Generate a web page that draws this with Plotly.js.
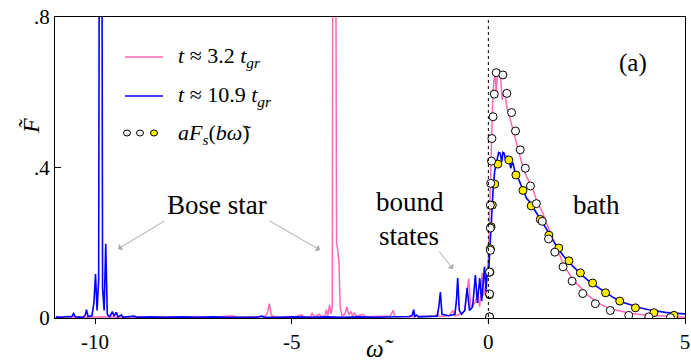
<!DOCTYPE html>
<html>
<head>
<meta charset="utf-8">
<script src="https://cdn.plot.ly/plotly-3.0.1.min.js"></script>
</head>
<body style="margin:0;background:#fff">
<div id="chart" style="width:691px;height:364px"></div>
<script>
// ---- data ----
const pinkX = [-11.0,-10.6,-10.2,-9.8,-9.4,-9.0,-8.6,-8.2,-7.8,-7.4,-7.2,-6.8,-6.5,-6.4,-6.0,-5.7,-5.62,-5.57,-5.52,-5.45,-5.2,-5.05,-4.9,-4.76,-4.7,-4.52,-4.48,-4.43,-4.3,-4.25,-4.15,-4.12,-4.08,-4.04,-4.0,-3.97,-3.93,-3.88,-3.86,-3.83,-3.80,-3.77,-3.72,-3.65,-3.60,-3.55,-3.50,-3.45,-3.40,-3.35,-3.2,-3.1,-2.9,-2.7,-2.5,-2.42,-2.38,-2.2,-1.9,-1.6,-1.35,-1.3,-1.25,-1.0,-0.9,-0.85,-0.72,-0.6,-0.55,-0.50,-0.45,-0.35,-0.28,-0.22,-0.16,-0.12,-0.08,-0.04,0.00,0.03,0.05,0.08,0.11,0.14,0.17,0.20,0.23,0.27,0.31,0.35,0.39,0.43,0.48,0.55,0.63,0.70,0.80,0.88,0.97,1.05,1.14,1.22,1.31,1.40,1.48,1.57,1.65,1.74,1.82,1.90,1.99,2.08,2.16,2.26,2.36,2.47,2.58,2.78,3.00,3.2,3.43,3.65,3.86,4.2,4.5,4.75,5.0];
const pinkY = [0.002,0.003,0.002,0.003,0.002,0.003,0.002,0.003,0.002,0.004,0.002,0.003,0.006,0.002,0.003,0.003,0.012,0.038,0.008,0.003,0.002,0.004,0.003,0.009,0.003,0.004,0.014,0.003,0.01,0.004,0.006,0.022,0.006,0.035,0.01,0.03,3.0,0.6,0.2,0.18,0.15,0.03,0.005,0.01,0.03,0.008,0.018,0.005,0.014,0.004,0.01,0.003,0.004,0.003,0.005,0.02,0.004,0.003,0.004,0.003,0.005,0.012,0.004,0.006,0.02,0.006,0.01,0.02,0.07,0.105,0.03,0.04,0.06,0.03,0.12,0.06,0.08,0.10,0.16,0.28,0.36,0.49,0.58,0.63,0.648,0.60,0.645,0.66,0.645,0.58,0.60,0.59,0.555,0.53,0.50,0.47,0.43,0.40,0.376,0.36,0.34,0.315,0.296,0.275,0.252,0.228,0.207,0.185,0.163,0.145,0.128,0.113,0.101,0.09,0.08,0.068,0.056,0.04,0.029,0.022,0.016,0.012,0.009,0.006,0.004,0.003,0.002];

const blueX = [-11.0,-10.85,-10.7,-10.6,-10.55,-10.5,-10.3,-10.25,-10.22,-10.18,-10.08,-10.03,-9.99,-9.95,-9.91,-9.86,-9.81,-9.77,-9.73,-9.69,-9.63,-9.56,-9.52,-9.46,-9.42,-9.33,-9.29,-9.1,-9.0,-8.95,-8.6,-8.2,-7.8,-7.4,-7.0,-6.6,-6.2,-5.9,-5.75,-5.7,-5.3,-4.9,-4.5,-4.1,-3.7,-3.3,-2.9,-2.5,-2.2,-2.0,-1.93,-1.90,-1.87,-1.82,-1.78,-1.5,-1.3,-1.26,-1.22,-1.18,-1.0,-0.85,-0.81,-0.78,-0.74,-0.68,-0.60,-0.54,-0.48,-0.40,-0.33,-0.28,-0.22,-0.17,-0.10,-0.06,-0.03,0.00,0.03,0.06,0.08,0.12,0.16,0.21,0.26,0.30,0.34,0.37,0.40,0.45,0.48,0.51,0.57,0.60,0.63,0.68,0.72,0.76,0.85,0.97,1.04,1.10,1.23,1.31,1.40,1.48,1.57,1.65,1.74,1.86,1.99,2.12,2.25,2.40,2.58,2.8,3.01,3.2,3.43,3.65,3.86,4.07,4.28,4.5,4.70,4.85,5.0];
const blueY = [0.003,0.002,0.004,0.003,0.012,0.003,0.002,0.008,0.022,0.004,0.006,0.04,0.117,0.02,0.1,3.0,0.08,0.02,0.197,0.01,0.003,0.017,0.005,0.015,0.003,0.008,0.002,0.003,0.005,0.002,0.003,0.002,0.003,0.002,0.003,0.002,0.003,0.002,0.005,0.002,0.002,0.003,0.002,0.003,0.002,0.003,0.002,0.003,0.002,0.004,0.008,0.022,0.004,0.008,0.003,0.004,0.005,0.03,0.069,0.01,0.006,0.01,0.05,0.106,0.02,0.01,0.02,0.08,0.02,0.03,0.114,0.04,0.106,0.045,0.136,0.07,0.128,0.11,0.17,0.22,0.243,0.34,0.39,0.411,0.44,0.438,0.415,0.44,0.438,0.415,0.43,0.429,0.398,0.41,0.411,0.385,0.38,0.371,0.349,0.318,0.31,0.30,0.278,0.265,0.252,0.238,0.221,0.205,0.19,0.172,0.154,0.14,0.128,0.112,0.096,0.08,0.065,0.053,0.041,0.033,0.027,0.022,0.018,0.015,0.013,0.012,0.011];

const fitWhiteX = [0.03,0.03,0.03,0.05,0.05,0.05,0.06,0.08,0.09,0.12,0.15,0.20,0.37,0.47,0.59,0.69,0.81,0.94,1.07,1.22,1.37,1.53,1.69,1.90,2.13,2.40,2.72,3.10,3.57,4.08,4.63];
const fitWhiteY = [0.003,0.064,0.122,0.18,0.239,0.30,0.358,0.417,0.477,0.535,0.595,0.652,0.646,0.597,0.546,0.497,0.447,0.398,0.351,0.304,0.257,0.21,0.175,0.136,0.098,0.065,0.038,0.020,0.007,0.003,0.001];

const fitYellowX = [0.03,0.03,0.04,0.05,0.07,0.10,0.16,0.24,0.52,0.70,0.88,1.09,1.32,1.54,1.79,2.05,2.34,2.65,2.98,3.34,3.74,4.21,4.72];
const fitYellowY = [0.003,0.062,0.122,0.184,0.242,0.30,0.356,0.409,0.42,0.38,0.339,0.298,0.262,0.22,0.186,0.152,0.12,0.093,0.067,0.045,0.027,0.014,0.007];

const xTickVals = [-10,-5,0,5];
const xTickText = ['-10','-5','0','5'];
const yTickVals = [0,0.4,0.8];
const yTickText = ['0','.4','.8'];

const legendLabels = ['<i>t</i> ≈ 3.2 <i>t<sub>gr</sub></i>', '<i>t</i> ≈ 10.9 <i>t<sub>gr</sub></i>', '<i>aF<sub>s</sub></i>(<i>bω̃</i>)'];

function drawChart() {
  // ---- layout helpers (pixel -> paper) ----
  const pL = 55, pR = 685, pT = 17, pB = 318;
  const toPX = x => (x - pL) / (pR - pL);
  const toPY = y => (pB - y) / (pB - pT);
  const FAM = 'Liberation Serif';
  const PINK = '#ff69b4', BLUE = '#0000ff';

  const traces = [
    {x: pinkX, y: pinkY, mode: 'lines', line: {color: PINK, width: 1.5}, hoverinfo: 'skip'},
    {x: blueX, y: blueY, mode: 'lines', line: {color: BLUE, width: 1.6}, hoverinfo: 'skip'},
    {x: fitYellowX, y: fitYellowY, mode: 'markers', marker: {symbol: 'circle', size: 8, color: '#ffee00', line: {color: '#000', width: 1}}, hoverinfo: 'skip'},
    {x: fitWhiteX, y: fitWhiteY, mode: 'markers', marker: {symbol: 'circle', size: 8, color: '#ffffff', line: {color: '#000', width: 1}}, hoverinfo: 'skip'}
  ];

  const shapes = [
    {type: 'line', xref: 'x', yref: 'paper', x0: 0, x1: 0, y0: toPY(323), y1: 1, line: {color: '#000', width: 1, dash: 'dot'}},
    {type: 'line', xref: 'paper', yref: 'paper', x0: toPX(125), x1: toPX(163), y0: toPY(57), y1: toPY(57), line: {color: PINK, width: 1.5}},
    {type: 'line', xref: 'paper', yref: 'paper', x0: toPX(125), x1: toPX(163), y0: toPY(96), y1: toPY(96), line: {color: BLUE, width: 1.6}}
  ];
  [[127,'#ffffff'],[140,'#ffffff'],[154,'#ffee00']].forEach(function (p) {
    shapes.push({type: 'circle', xref: 'paper', yref: 'paper', x0: toPX(p[0]-3.5), x1: toPX(p[0]+3.5), y0: toPY(136), y1: toPY(130), fillcolor: p[1], line: {color: '#000', width: 1}});
  });

  function ann(x, y, text, size, extra) {
    return Object.assign({xref: 'paper', yref: 'paper', x: toPX(x), y: toPY(y), text: text, showarrow: false,
      font: {family: FAM, size: size, color: '#000'}, xanchor: 'center', yanchor: 'middle'}, extra || {});
  }
  function arrow(hx, hy, tx, ty) {
    return {xref: 'paper', yref: 'paper', x: toPX(hx), y: toPY(hy), ax: tx - hx, ay: ty - hy, text: '', showarrow: true,
      arrowhead: 1, arrowsize: 1.3, arrowwidth: 1, arrowcolor: '#aaaaaa'};
  }

  const annotations = [
    ann(176, 57, legendLabels[0], 22, {xanchor: 'left'}),
    ann(176, 96, legendLabels[1], 22, {xanchor: 'left'}),
    ann(176, 134, legendLabels[2], 22, {xanchor: 'left'}),
    ann(633, 63, '(a)', 25),
    ann(217, 205, 'Bose star', 27),
    ann(410, 219, 'bound', 27, {yanchor: 'bottom'}),
    ann(409, 219, 'states', 27, {yanchor: 'top'}),
    ann(596, 205, 'bath', 27),
    ann(380, 348, '<i>ω̃</i>', 25),
    ann(31, 126, '<i>F̃</i>', 24, {textangle: -90}),
    arrow(118, 249, 166, 220),
    arrow(320, 250, 268, 220),
    arrow(453, 269, 438, 250)
  ];

  const axisBase = {ticklen: 5, tickwidth: 1, tickcolor: '#000', showline: true, mirror: true, linecolor: '#000', linewidth: 1.3,
    showgrid: false, zeroline: false, tickfont: {family: FAM, size: 21, color: '#000'}};

  const layout = {
    width: 691, height: 364,
    margin: {l: pL, r: 691 - pR, t: pT, b: 364 - pB},
    paper_bgcolor: '#fff', plot_bgcolor: '#fff',
    showlegend: false,
    font: {family: FAM, color: '#000'},
    xaxis: Object.assign({}, axisBase, {range: [-11.02, 5], tickvals: xTickVals, ticktext: xTickText, ticks: 'outside'}),
    yaxis: Object.assign({}, axisBase, {range: [0, 0.8], tickvals: yTickVals, ticktext: yTickText, ticks: 'inside', ticklen: 6}),
    shapes: shapes,
    annotations: annotations
  };

  Plotly.newPlot('chart', traces, layout, {displayModeBar: false});
}

if (document.fonts && document.fonts.load) {
  Promise.all([
    document.fonts.load('22px "Liberation Serif"', 'Bose star 0.4 ω'),
    document.fonts.load('italic 22px "Liberation Serif"', 'tFω')
  ]).then(drawChart, drawChart);
} else {
  drawChart();
}
</script>
</body>
</html>
